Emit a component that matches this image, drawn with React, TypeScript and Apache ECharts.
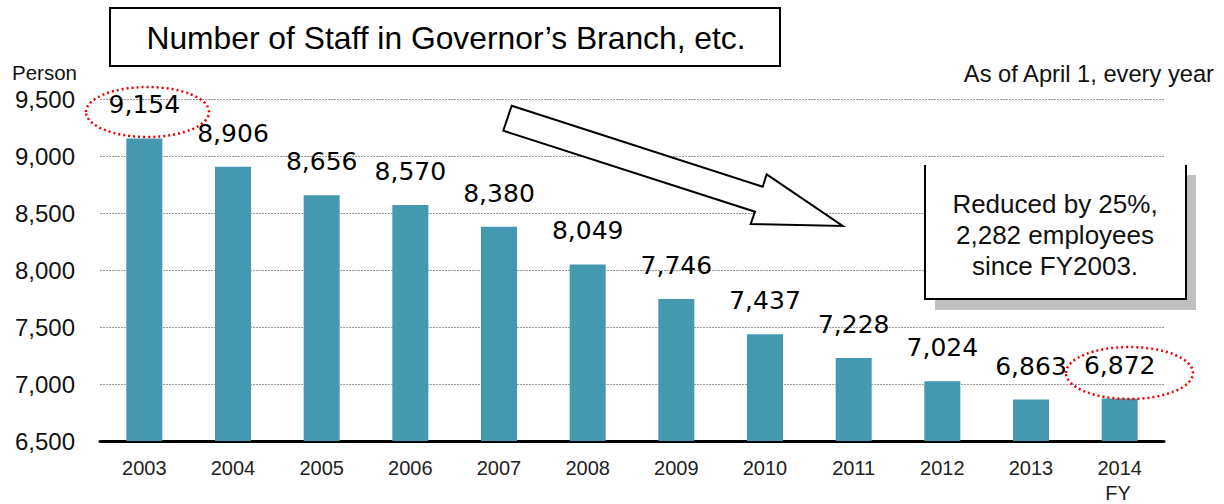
import React, { useEffect, useRef } from "react";
import * as echarts from "echarts";

const years = ["2003", "2004", "2005", "2006", "2007", "2008", "2009", "2010", "2011", "2012", "2013", "2014"];
const staff = [9154, 8906, 8656, 8570, 8380, 8049, 7746, 7437, 7228, 7024, 6863, 6872];
const yTicks = { min: 6500, max: 9500, interval: 500 };
const titleText = "Number of Staff in Governor\u2019s Branch, etc.";
const noteLines = ["Reduced by 25%,", "2,282 employees", "since FY2003."];

export default function App() {
  const ref = useRef<HTMLDivElement>(null);
  useEffect(() => {
    if (!ref.current) return;
    const chart = echarts.init(ref.current, null, { renderer: "svg" });
    const sans = "Liberation Sans, Arial, sans-serif";
    chart.setOption({
      animation: false,
      grid: { left: 100, right: 60, top: 99, bottom: 63 },
      xAxis: {
        type: "category",
        data: years,
        axisLine: { lineStyle: { color: "#000", width: 3 } },
        axisTick: { show: false },
        axisLabel: { color: "#222", fontFamily: sans, fontSize: 20, margin: 17 },
      },
      yAxis: {
        type: "value",
        min: yTicks.min,
        max: yTicks.max,
        interval: yTicks.interval,
        axisLine: { show: false },
        axisTick: { show: false },
        axisLabel: {
          color: "#111",
          fontFamily: sans,
          fontSize: 24,
          margin: 25,
          formatter: (v: number) => v.toLocaleString("en-US"),
        },
        splitLine: { lineStyle: { color: "#999", type: [2, 1], width: 1 } },
      },
      series: [
        {
          type: "bar",
          data: staff,
          barWidth: 36,
          itemStyle: { color: "#4499B0" },
          label: {
            show: true,
            position: "top",
            distance: 21,
            color: "#000",
            fontFamily: "DejaVu Sans, sans-serif",
            fontSize: 25,
            formatter: (p: any) => Number(p.value).toLocaleString("en-US"),
          },
        },
      ],
      graphic: [
        {
          type: "rect",
          shape: { x: 110, y: 8, width: 670, height: 58 },
          style: { fill: "#fff", stroke: "#000", lineWidth: 2 },
          z: 10,
        },
        {
          type: "text",
          x: 446,
          y: 38,
          style: {
            text: titleText,
            fontFamily: sans,
            fontSize: 31.8,
            fill: "#000",
            align: "center",
            verticalAlign: "middle",
          },
          z: 11,
        },
        {
          type: "text",
          x: 12,
          y: 72,
          style: { text: "Person", fontFamily: sans, fontSize: 20.5, fill: "#111", align: "left", verticalAlign: "middle" },
        },
        {
          type: "text",
          x: 1214,
          y: 74,
          style: {
            text: "As of April 1, every year",
            fontFamily: sans,
            fontSize: 23.7,
            fill: "#111",
            align: "right",
            verticalAlign: "middle",
          },
        },
        {
          type: "text",
          x: 1118,
          y: 493,
          style: { text: "FY", fontFamily: sans, fontSize: 20, fill: "#222", align: "center", verticalAlign: "middle" },
        },
        {
          type: "polygon",
          shape: {
            points: [
              [511.7, 105.7],
              [762.7, 186.7],
              [766.7, 174.3],
              [842.7, 226],
              [750.7, 224],
              [755, 211.7],
              [503.3, 130.7],
            ],
          },
          style: { fill: "#fff", stroke: "#000", lineWidth: 2 },
          z: 10,
        },
        {
          type: "rect",
          shape: { x: 935, y: 175, width: 261, height: 135 },
          style: { fill: "#c0c0c0" },
          z: 10,
        },
        {
          type: "rect",
          shape: { x: 925, y: 165, width: 261, height: 134 },
          style: { fill: "#fff" },
          z: 11,
        },
        {
          type: "polyline",
          shape: { points: [[925, 165], [925, 299], [1186, 299], [1186, 165]] },
          style: { fill: null, stroke: "#000", lineWidth: 2 },
          z: 12,
        },
        {
          type: "text",
          x: 1055,
          y: 235,
          style: {
            text: noteLines.join("\n"),
            fontFamily: sans,
            fontSize: 26,
            lineHeight: 31,
            fill: "#111",
            align: "center",
            verticalAlign: "middle",
          },
          z: 13,
        },
        {
          type: "ellipse",
          shape: { cx: 147.5, cy: 112, rx: 61.5, ry: 25 },
          style: { fill: null, stroke: "#e00", lineWidth: 2.5, lineDash: [2, 3] },
          z: 14,
        },
        {
          type: "ellipse",
          shape: { cx: 1129.5, cy: 373, rx: 63.5, ry: 26 },
          style: { fill: null, stroke: "#e00", lineWidth: 2.5, lineDash: [2, 3] },
          z: 14,
        },
      ],
    });
    return () => chart.dispose();
  }, []);
  return (
    <div
      ref={ref}
      style={{ position: "absolute", left: 0, top: 0, width: 1224, height: 504, background: "#fff" }}
    />
  );
}
